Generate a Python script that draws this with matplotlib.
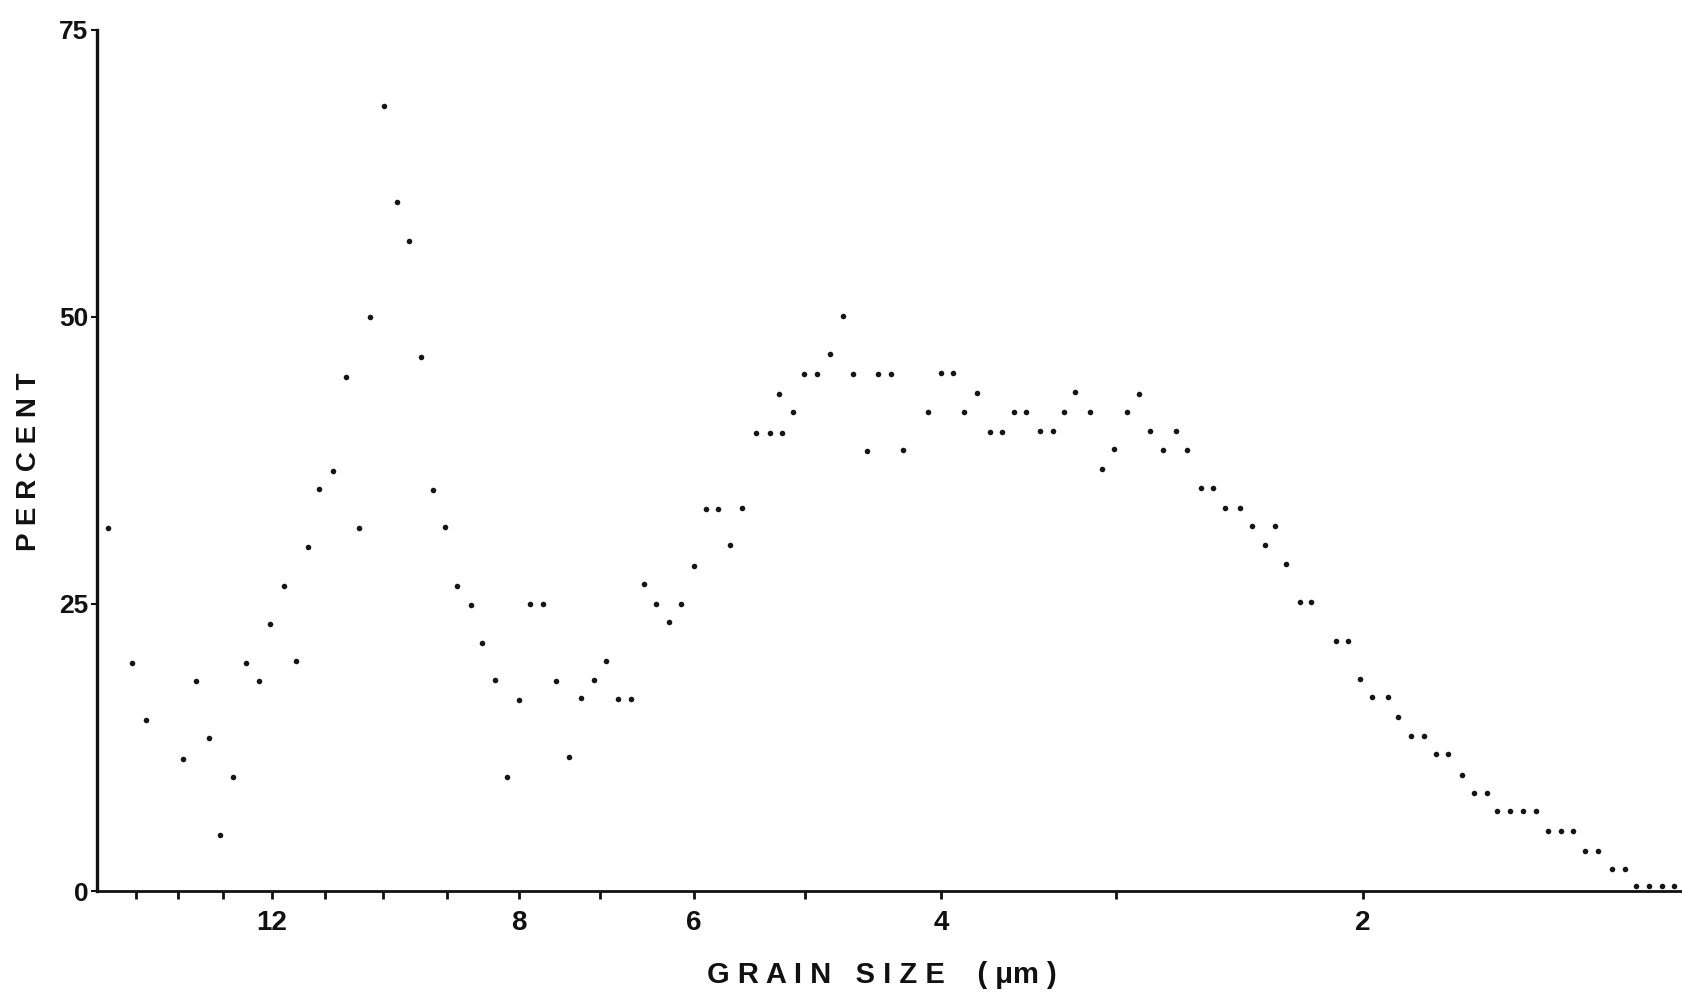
import numpy as np
import matplotlib
matplotlib.use('Agg')
import matplotlib.pyplot as plt
from matplotlib.ticker import FixedLocator, NullFormatter

plt.rcParams['font.family'] = ['Liberation Sans', 'DejaVu Sans']

# grain size (um) and percent
grain_size = [15.72, 15.09, 14.76, 13.89, 13.59, 13.31, 13.06, 12.79, 12.53, 12.26,
              12.03, 11.76, 11.54, 11.31, 11.10, 10.86, 10.63, 10.41, 10.22, 9.98,
              9.77, 9.58, 9.40, 9.21, 9.03, 8.85, 8.66, 8.50, 8.32, 8.16,
              8.00, 7.85, 7.69, 7.53, 7.37, 7.23, 7.07, 6.93, 6.80, 6.66,
              6.51, 6.39, 6.25, 6.13, 6.00, 5.88, 5.77, 5.66, 5.55, 5.42,
              5.30, 5.22, 5.19, 5.10, 5.01, 4.90, 4.80, 4.70, 4.62, 4.52,
              4.44, 4.34, 4.26, 4.09, 4.00, 3.92, 3.85, 3.77, 3.69, 3.62,
              3.55, 3.48, 3.40, 3.33, 3.27, 3.21, 3.13, 3.07, 3.01, 2.95,
              2.89, 2.84, 2.78, 2.72, 2.67, 2.61, 2.56, 2.51, 2.45, 2.40,
              2.35, 2.31, 2.27, 2.22, 2.18, 2.09, 2.05, 2.01, 1.97, 1.92,
              1.89, 1.85, 1.81, 1.775, 1.74, 1.70, 1.666, 1.631, 1.605, 1.571,
              1.538, 1.505, 1.476, 1.445, 1.417, 1.389, 1.360, 1.330, 1.302, 1.277,
              1.251, 1.225, 1.201]
percent = [31.6, 19.9, 14.9, 11.5, 18.3, 13.3, 4.9, 9.9, 19.9, 18.3,
           23.3, 26.6, 20.0, 30.0, 35.0, 36.6, 44.8, 31.6, 50.0, 68.4,
           60.0, 56.6, 46.5, 34.9, 31.7, 26.6, 24.9, 21.6, 18.4, 9.9,
           16.6, 25.0, 25.0, 18.3, 11.7, 16.8, 18.4, 20.0, 16.7, 16.7,
           26.7, 25.0, 23.4, 25.0, 28.3, 33.3, 33.3, 30.1, 33.4, 39.9,
           39.9, 43.3, 39.9, 41.7, 45.0, 45.0, 46.8, 50.1, 45.0, 38.3,
           45.0, 45.0, 38.4, 41.7, 45.1, 45.1, 41.7, 43.4, 40.0, 40.0,
           41.7, 41.7, 40.1, 40.1, 41.7, 43.5, 41.7, 36.8, 38.5, 41.7,
           43.3, 40.1, 38.4, 40.1, 38.4, 35.1, 35.1, 33.4, 33.4, 31.8,
           30.1, 31.8, 28.5, 25.2, 25.2, 21.8, 21.8, 18.5, 16.9, 16.9,
           15.2, 13.5, 13.5, 11.9, 11.9, 10.1, 8.5, 8.5, 7.0, 7.0,
           7.0, 7.0, 5.2, 5.2, 5.2, 3.5, 3.5, 1.9, 1.9, 0.4,
           0.4, 0.4, 0.4]

major_ticks = [12, 8, 6, 4, 2]
minor_ticks = [15, 14, 13, 11, 10, 9, 7, 5, 3]
y_ticks = [0, 25, 50, 75]

fig = plt.figure(figsize=(16.83, 9.97), dpi=100)
ax = fig.add_axes([0.0575, 0.1063, 0.9425, 0.8637])

ax.plot(grain_size, percent, 'o', color='#151515', markersize=4.0, markeredgewidth=0,
        clip_on=False)

ax.set_xscale('log')
ax.set_xlim(16.0, 1.183)
ax.set_ylim(0, 75)

ax.xaxis.set_major_locator(FixedLocator(major_ticks))
ax.xaxis.set_minor_locator(FixedLocator(minor_ticks))
ax.xaxis.set_minor_formatter(NullFormatter())
ax.set_xticklabels([str(t) for t in major_ticks])
ax.set_yticks(y_ticks)
ax.set_yticklabels([str(t) for t in y_ticks])

for s in ['top', 'right']:
    ax.spines[s].set_visible(False)
ax.spines['left'].set_linewidth(2.4)
ax.spines['bottom'].set_linewidth(2.0)
ax.spines['left'].set_color('#111111')
ax.spines['bottom'].set_color('#111111')

ax.tick_params(axis='x', which='both', direction='out', length=6, width=2,
               color='#111111', pad=8, labelsize=20)
ax.tick_params(axis='y', direction='out', length=4, width=1.5,
               color='#111111', pad=2, labelsize=19)
for lab in ax.get_xticklabels() + ax.get_yticklabels():
    lab.set_fontweight('bold')
    lab.set_color('#111111')

fig.text(0.524, 0.022, 'G R A I N   S I Z E    ( μm )', ha='center', va='center',
         fontsize=21, fontweight='bold', color='#111111')
fig.text(0.017, 0.537, 'P E R C E N T', ha='center', va='center', rotation=90,
         fontsize=20, fontweight='bold', color='#111111')

plt.savefig('out.png', dpi=100, facecolor='white')
